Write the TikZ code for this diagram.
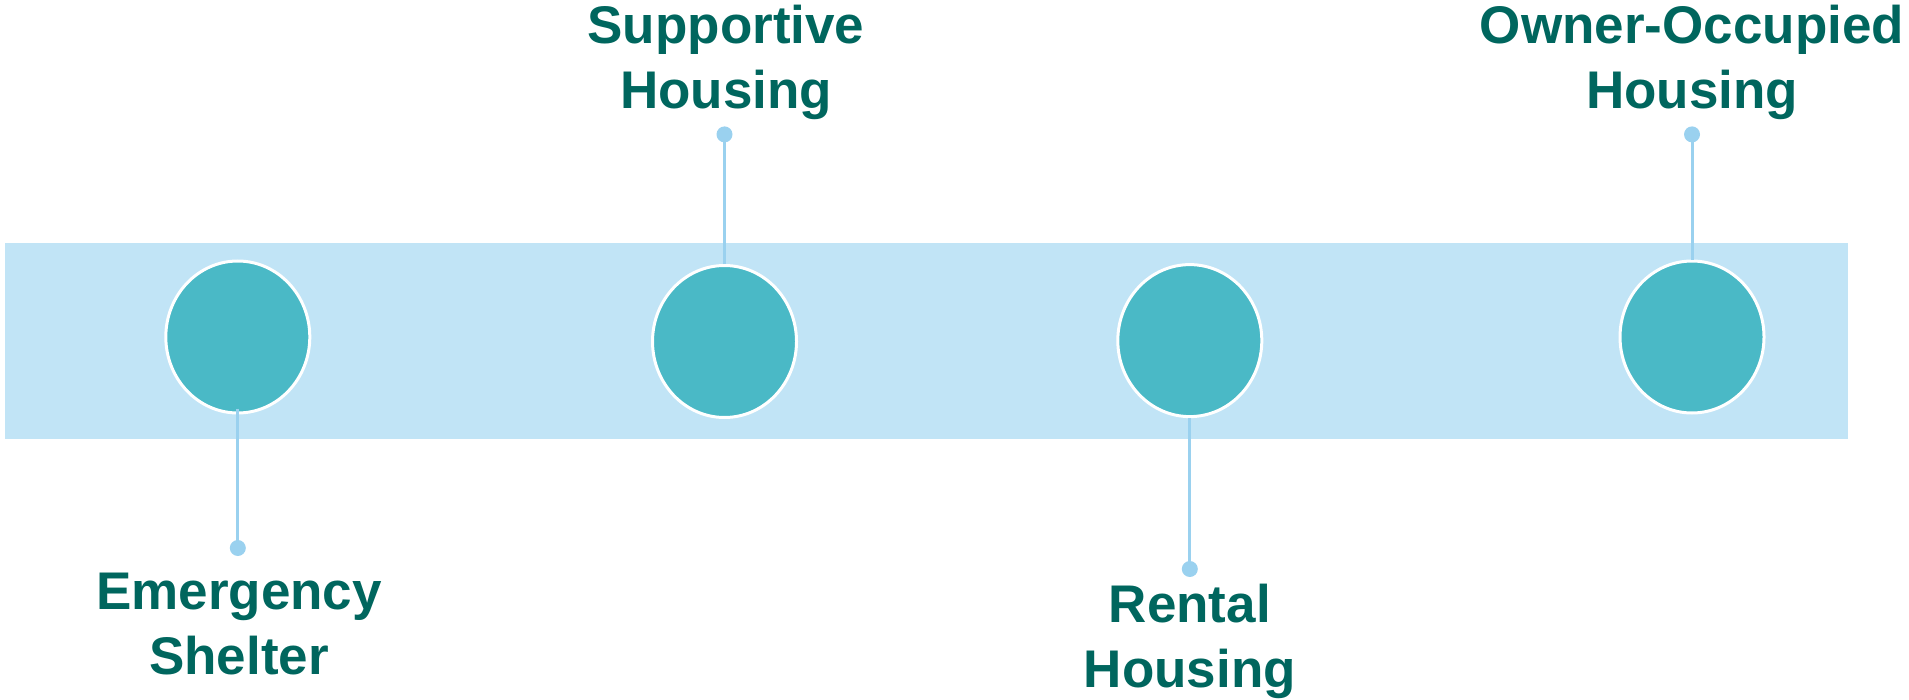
\documentclass[tikz,border=0pt]{standalone}
\usepackage{fontspec}
\setmainfont{Liberation Sans}
\usetikzlibrary{shapes.geometric}
\definecolor{bandblau}{HTML}{C1E4F6}
\definecolor{kreistuerkis}{HTML}{4AB9C6}
\definecolor{linienblau}{HTML}{9AD1EF}
\definecolor{textgruen}{HTML}{00665E}
\tikzset{
  stufe/.style={ellipse, fill=kreistuerkis, draw=white, line width=1.5pt,
    minimum width=72pt, minimum height=76pt, inner sep=0pt},
  punkt/.style={circle, fill=linienblau, minimum size=8pt, inner sep=0pt},
  verbinder/.style={linienblau, line width=1.5pt},
  titel/.style={font=\bfseries\fontsize{26.5}{32.5}\selectfont, text=textgruen,
    align=center, anchor=base, inner sep=0pt}
}
\begin{document}
\begin{tikzpicture}[x=0.5pt,y=-0.5pt]
      \useasboundingbox (0,0) rectangle (1909,700);

      % Band
      \fill [bandblau] (5,243) rectangle (1848,439);

      % Stufen
      \node [stufe] (notunterkunft) at (237.8,337) {};
      \node [stufe] (betreut) at (724.5,341.5) {};
      \node [stufe] (miete) at (1189.8,340.6) {};
      \node [stufe] (eigentum) at (1692,337) {};

      % Punkte und Verbinder
      \node [punkt] (pnotunterkunft) at (237.8,548) {};
      \node [punkt] (pbetreut) at (724.5,134.4) {};
      \node [punkt] (pmiete) at (1189.8,569) {};
      \node [punkt] (peigentum) at (1692,134.4) {};
      \draw [verbinder] ([yshift=3pt]notunterkunft.south) -- (pnotunterkunft.center);
      \draw [verbinder] (betreut.north) -- (pbetreut.center);
      \draw [verbinder] (miete.south) -- (pmiete.center);
      \draw [verbinder] (eigentum.north) -- (peigentum.center);

      % Beschriftung (Grundlinie der letzten Zeile)
      \node [titel] (tnotunterkunft) at (239,674) {Emergency\\Shelter};
      \node [titel] (tbetreut) at (726,108.5) {Supportive\\Housing};
      \node [titel] (tmiete) at (1189.8,687.5) {Rental\\Housing};
      \node [titel] (teigentum) at (1692,108.5) {Owner-Occupied\\Housing};
    \end{tikzpicture}
\end{document}
